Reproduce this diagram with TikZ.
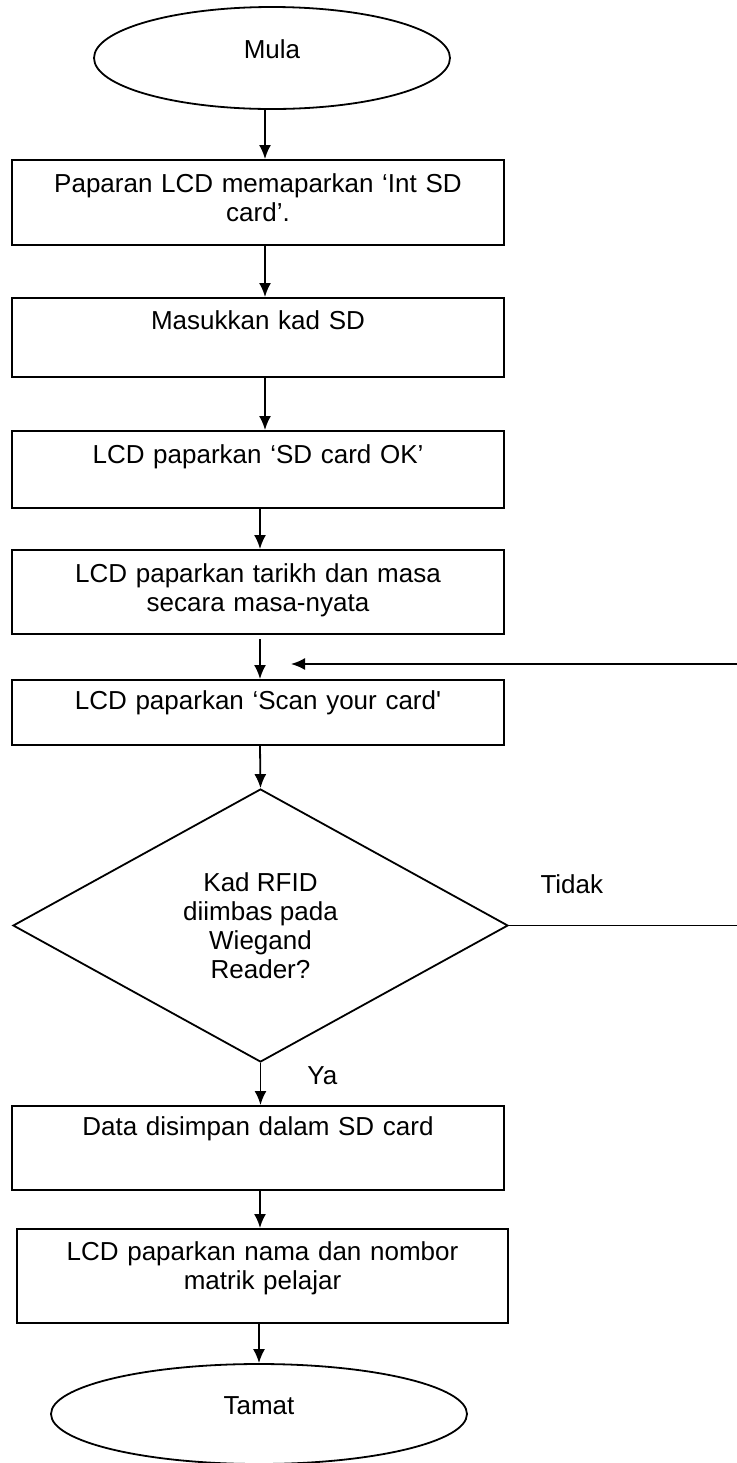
\documentclass[tikz,border=0pt]{standalone}
\usepackage{fontspec}
\setmainfont{Liberation Sans}
\usetikzlibrary{shapes.geometric, arrows.meta}

\begin{document}
\begin{tikzpicture}[x=0.5pt, y=-0.5pt,
  font=\fontsize{13pt}{14.5pt}\selectfont,
  terminal/.style={ellipse, draw, line width=0.9pt, inner sep=0pt,
    text height=0pt, text depth=0pt},
  procbox/.style={rectangle, draw, line width=1pt, anchor=north,
    inner xsep=0pt, inner ysep=0pt, text width=246pt, align=center},
  decision/.style={diamond, draw, line width=0.9pt, inner sep=0pt, aspect=1.8,
    minimum width=247.5pt, minimum height=136.5pt, align=center},
  arr/.style={-{Latex[length=7pt,width=6pt]}, line width=0.9pt},
  lbl/.style={inner sep=3pt}]
  \useasboundingbox (0,0) rectangle (736,1463);

  \node[terminal, minimum width=178pt, minimum height=51pt] (mula) at (272,58) {Mula};
  \node[procbox, text height=16pt, text depth=26.5pt] (intsd) at (258,159)
    {Paparan LCD memaparkan ‘Int SD\\card’.};
  \node[procbox, text height=15.5pt, text depth=24pt] (kadsd) at (258,297) {Masukkan kad SD};
  \node[procbox, text height=16pt, text depth=22.5pt] (sdok) at (258,430) {LCD paparkan ‘SD card OK’};
  \node[procbox, text height=16pt, text depth=26pt] (masa) at (258,549)
    {LCD paparkan tarikh dan masa\\secara masa-nyata};
  \node[procbox, text height=14.5pt, text depth=18pt] (scan) at (258,679)
    {LCD paparkan ‘Scan your card\textquotesingle};
  \node[decision] (rfid) at (260.5,925.5) {Kad RFID\\diimbas pada\\Wiegand\\Reader?};
  \node[procbox, text height=14.5pt, text depth=27.5pt] (simpan) at (258,1105) {Data disimpan dalam SD card};
  \node[procbox, text width=245.5pt, text height=15.5pt, text depth=31.5pt] (nama) at (262.5,1228)
    {LCD paparkan nama dan nombor\\matrik pelajar};
  \node[terminal, minimum width=208pt, minimum height=50pt] (tamat) at (259,1414) {Tamat};

  % loop back from Tidak
  \coordinate (edgeR) at (742,664);
  \coordinate (backtip) at (291,664);

  \draw[arr] ([xshift=-3.5pt]mula.south) -- ([xshift=3.5pt]intsd.north);
  \draw[arr] ([xshift=3.5pt]intsd.south) -- ([xshift=3.5pt]kadsd.north);
  \draw[arr] ([xshift=3.5pt]kadsd.south) -- ([xshift=3.5pt]sdok.north);
  \draw[arr] ([xshift=1pt]sdok.south) -- ([xshift=1pt]masa.north);
  \draw[arr] ([xshift=1pt,yshift=-2pt]masa.south) -- ([xshift=1pt]scan.north);
  \draw[arr] ([xshift=1pt]scan.south) -- (rfid.north);
  \draw[arr] (rfid.south) -- node[pos=0.3, right=20pt, lbl] (ya) {Ya} (rfid.south |- simpan.north);
  \draw[arr] ([xshift=1pt]simpan.south) -- ([xshift=1pt]simpan.south |- nama.north);
  \draw[arr] (tamat.north |- nama.south) -- (tamat.north);
  \draw[arr] (rfid.east) -- node[pos=0.27, above=12.5pt, lbl] (tidak) {Tidak} (rfid.east -| edgeR)
    -- (edgeR) -- (backtip);
\end{tikzpicture}
\end{document}
